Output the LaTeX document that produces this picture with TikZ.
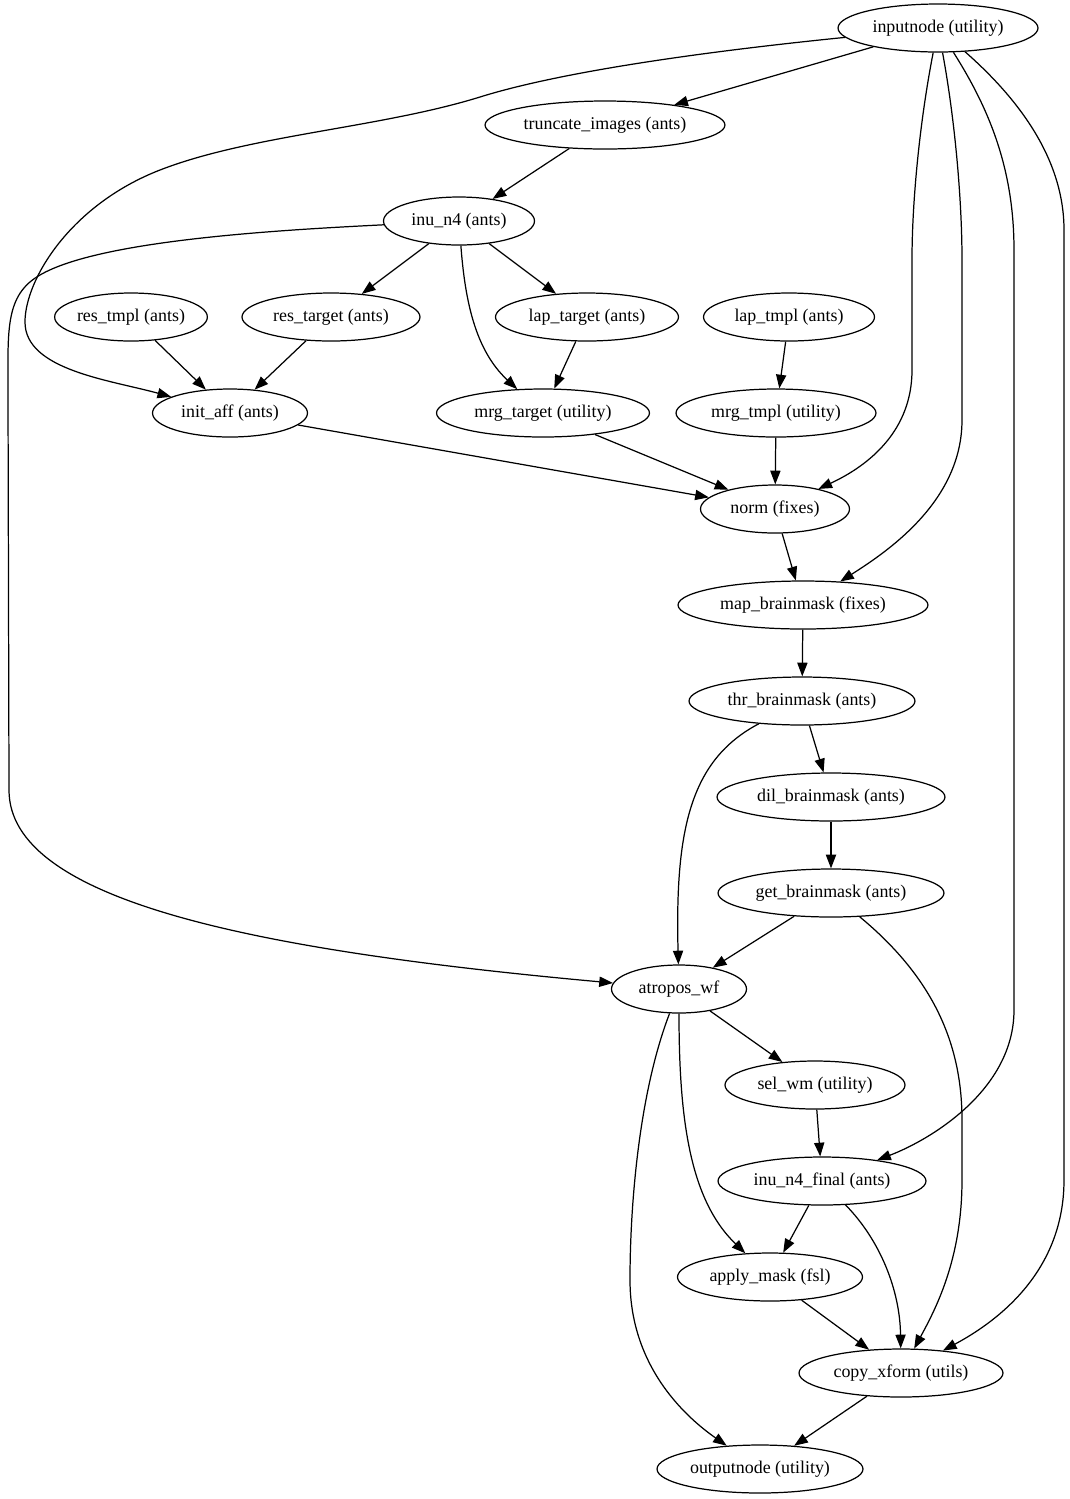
\documentclass[tikz,border=0pt]{standalone}
\usepackage{fontspec}
\setmainfont{Liberation Serif}
\usetikzlibrary{arrows.meta, shapes.geometric}

\begin{document}
\begin{tikzpicture}[
    x=0.02cm, y=-0.02cm,
    >={Triangle[length=7.8pt, width=5.8pt]},
    every node/.style={font=\fontsize{10.2}{12}\selectfont},
    wfnode/.style={draw, ellipse, inner sep=0pt, minimum height=0.96cm, line width=0.7pt},
    flow/.style={->, line width=0.7pt},
]
    \useasboundingbox (0,0) rectangle (1070,1499);

    % ── Input / preprocessing ─────────────────────
    \node[wfnode, minimum width=4.0cm]  (inputnode)  at (938,28)  {inputnode (utility)};
    \node[wfnode, minimum width=4.8cm]  (truncate)   at (605,125) {truncate\_images (ants)};
    \node[wfnode, minimum width=3.02cm] (inun4)      at (459,221) {inu\_n4 (ants)};

    % ── Registration inputs ───────────────────────
    \node[wfnode, minimum width=2.98cm] (restmpl)    at (131,317) {res\_tmpl (ants)};
    \node[wfnode, minimum width=3.56cm] (restarget)  at (331,317) {res\_target (ants)};
    \node[wfnode, minimum width=3.66cm] (laptarget)  at (587,317) {lap\_target (ants)};
    \node[wfnode, minimum width=3.42cm] (laptmpl)    at (789,317) {lap\_tmpl (ants)};
    \node[wfnode, minimum width=3.1cm]  (initaff)    at (230,413) {init\_aff (ants)};
    \node[wfnode, minimum width=4.26cm] (mrgtarget)  at (543,413) {mrg\_target (utility)};
    \node[wfnode, minimum width=4.0cm]  (mrgtmpl)    at (776,413) {mrg\_tmpl (utility)};
    \node[wfnode, minimum width=2.98cm] (norm)       at (775,509) {norm (fixes)};

    % ── Brain mask ────────────────────────────────
    \node[wfnode, minimum width=5.0cm]  (mapmask)    at (803,605) {map\_brainmask (fixes)};
    \node[wfnode, minimum width=4.52cm] (thrmask)    at (802,701) {thr\_brainmask (ants)};
    \node[wfnode, minimum width=4.56cm] (dilmask)    at (831,797) {dil\_brainmask (ants)};
    \node[wfnode, minimum width=4.52cm] (getmask)    at (831,893) {get\_brainmask (ants)};

    % ── Segmentation / output ─────────────────────
    \node[wfnode, minimum width=2.7cm]  (atropos)    at (679,989)  {atropos\_wf};
    \node[wfnode, minimum width=3.6cm]  (selwm)      at (815,1085) {sel\_wm (utility)};
    \node[wfnode, minimum width=4.16cm] (inufinal)   at (822,1181) {inu\_n4\_final (ants)};
    \node[wfnode, minimum width=3.7cm]  (applymask)  at (770,1277) {apply\_mask (fsl)};
    \node[wfnode, minimum width=4.08cm] (copyxform)  at (901,1373) {copy\_xform (utils)};
    \node[wfnode, minimum width=4.12cm] (outputnode) at (760,1469) {outputnode (utility)};

    % ── Straight links ────────────────────────────
    \draw[flow] (inputnode) -- (truncate);
    \draw[flow] (truncate) -- (inun4);
    \draw[flow] (inun4) -- (restarget);
    \draw[flow] (inun4) -- (laptarget);
    \draw[flow] (restmpl) -- (initaff);
    \draw[flow] (restarget) -- (initaff);
    \draw[flow] (laptarget) -- (mrgtarget);
    \draw[flow] (laptmpl) -- (mrgtmpl);
    \draw[flow] (initaff) -- (norm);
    \draw[flow] (mrgtarget) -- (norm);
    \draw[flow] (mrgtmpl) -- (norm);
    \draw[flow] (norm) -- (mapmask);
    \draw[flow] (mapmask) -- (thrmask);
    \draw[flow] (thrmask) -- (dilmask);
    \draw[flow] (dilmask) -- (getmask);
    \draw[flow] (getmask) -- (atropos);
    \draw[flow] (atropos) -- (selwm);
    \draw[flow] (selwm) -- (inufinal);
    \draw[flow] (inufinal) -- (applymask);
    \draw[flow] (applymask) -- (copyxform);
    \draw[flow] (copyxform) -- (outputnode);

    % ── Curved links from inputnode ───────────────
    \draw[flow] (inputnode) .. controls (700,52) and (560,72) .. (480,97)
        .. controls (380,128) and (250,135) .. (160,170)
        .. controls (70,205) and (25,280) .. (25,322)
        .. controls (25,370) and (110,380) .. (initaff);
    \draw[flow] (inputnode) .. controls (920,120) and (912,200) .. (912,260)
        -- (912,370) .. controls (912,430) and (870,465) .. (norm);
    \draw[flow] (inputnode) .. controls (955,120) and (962,200) .. (962,260)
        -- (962,420) .. controls (962,500) and (890,550) .. (mapmask);
    \draw[flow] (inputnode) .. controls (990,110) and (1014,170) .. (1014,250)
        -- (1014,1010) .. controls (1014,1090) and (930,1140) .. (inufinal);
    \draw[flow] (inputnode) .. controls (1020,100) and (1064,160) .. (1064,230)
        -- (1064,1180) .. controls (1064,1270) and (1000,1320) .. (copyxform);

    % ── Other curved links ────────────────────────
    \draw[flow] (inun4) .. controls (465,300) and (475,350) .. (mrgtarget);
    \draw[flow] (inun4) .. controls (280,230) and (100,240) .. (40,275)
        .. controls (5,295) and (8,330) .. (8,390)
        -- (9,790) .. controls (9,900) and (250,950) .. (atropos);
    \draw[flow] (thrmask) .. controls (690,760) and (675,830) .. (atropos);
    \draw[flow] (getmask) .. controls (930,975) and (962,1040) .. (962,1120)
        -- (962,1180) .. controls (962,1260) and (935,1310) .. (copyxform);
    \draw[flow] (atropos) .. controls (679,1120) and (690,1200) .. (applymask);
    \draw[flow] (atropos) .. controls (640,1090) and (630,1200) .. (630,1280)
        .. controls (630,1370) and (690,1420) .. (outputnode);
    \draw[flow] (inufinal) .. controls (880,1240) and (900,1290) .. (copyxform);
\end{tikzpicture}
\end{document}
